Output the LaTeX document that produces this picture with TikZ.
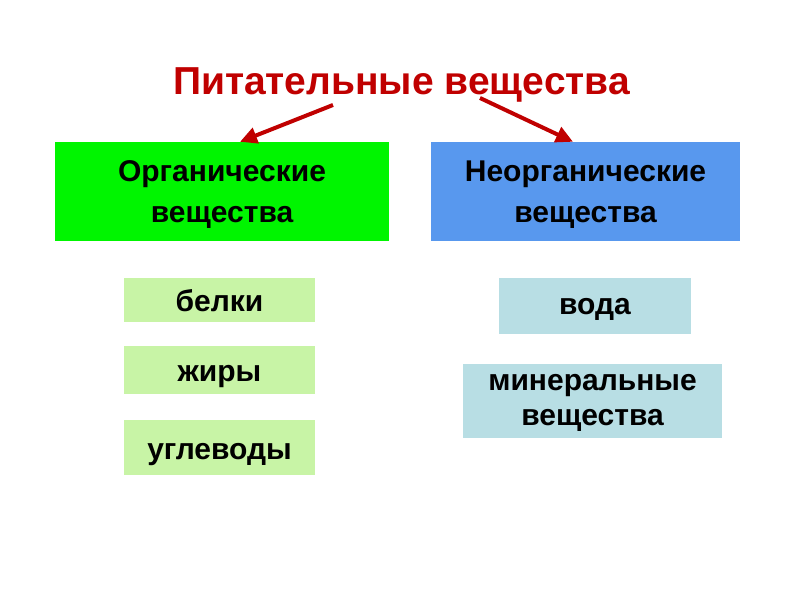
\documentclass[tikz,border=0pt]{standalone}
\usepackage{fontspec}
\setmainfont{Liberation Sans}
\usepackage{xcolor}
\usetikzlibrary{arrows.meta}

\definecolor{titlered}{RGB}{192,0,0}
\definecolor{orggreen}{RGB}{0,245,0}
\definecolor{inorgblue}{RGB}{88,152,238}
\definecolor{palegreen}{RGB}{200,244,166}
\definecolor{paleblue}{RGB}{184,222,228}

\begin{document}
\begin{tikzpicture}[x=1pt,y=1pt,
		bigbox/.style={inner sep=0pt, align=center, font=\fontsize{30}{41}\selectfont\bfseries},
		smallbox/.style={inner sep=0pt, align=center, text depth=0pt, font=\fontsize{30}{35}\selectfont\bfseries},
		redarrow/.style={draw=titlered, line width=4pt, -{Triangle[length=17pt,width=16pt]}}]
		\useasboundingbox (0,0) rectangle (800,600);
		\fill[white] (0,0) rectangle (800,600);
		
		\node[anchor=base, text=titlered, font=\fontsize{39}{44}\selectfont\bfseries] (title) at (401.5,505) {Питательные вещества};
		
		\node[bigbox, fill=orggreen, minimum width=334, minimum height=99] (org) at (222,408.5) {\rule{0pt}{26pt}Органические\\вещества};
		\node[bigbox, fill=inorgblue, minimum width=309, minimum height=99] (inorg) at (585.5,408.5) {\rule{0pt}{26pt}Неорганические\\вещества};
		
		\node[smallbox, fill=palegreen, minimum width=191, minimum height=44, text height=24pt] (belki) at (219.5,300) {белки};
		\node[smallbox, fill=palegreen, minimum width=191, minimum height=48, text height=24pt] (zhiry) at (219.5,230) {жиры};
		\node[smallbox, fill=palegreen, minimum width=191, minimum height=55, text height=23pt] (uglevody) at (219.5,152.5) {углеводы};
		
		\node[smallbox, fill=paleblue, minimum width=192, minimum height=56, text height=18pt] (voda) at (595,294) {вода};
		\node[bigbox, fill=paleblue, minimum width=259, minimum height=74, font=\fontsize{30}{35}\selectfont\bfseries] (mineral) at (592.5,199) {\rule{0pt}{19pt}минеральные\\вещества};
		
		\coordinate (la) at (333,495);
		\coordinate (ra) at (480,502);
		\draw[redarrow] (la) -- ([xshift=18pt]org.north);
		\draw[redarrow] (ra) -- ([xshift=-12.5pt]inorg.north);
	\end{tikzpicture}
\end{document}
